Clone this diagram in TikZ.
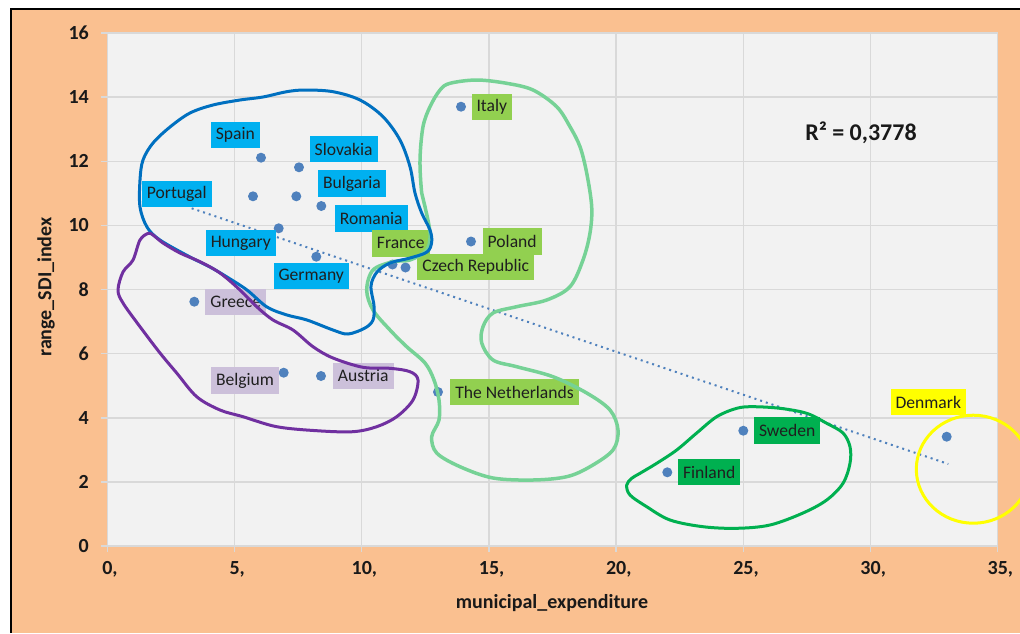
\documentclass[tikz,border=0pt]{standalone}
\usepackage{fontspec}
\setmainfont{Carlito}
\definecolor{bgorange}{RGB}{250,192,144}
\definecolor{plotgray}{RGB}{242,242,242}
\definecolor{gridgray}{RGB}{217,217,217}
\definecolor{dotblue}{RGB}{79,129,189}
\definecolor{labblue}{RGB}{0,176,240}
\definecolor{labgreen}{RGB}{146,208,80}
\definecolor{labdkgreen}{RGB}{0,176,80}
\definecolor{lablav}{RGB}{204,192,218}
\definecolor{labyellow}{RGB}{255,255,0}
\definecolor{curveblue}{RGB}{0,112,192}
\definecolor{curvepurple}{RGB}{112,48,160}
\definecolor{curvelgreen}{RGB}{118,210,150}
\begin{document}
\begin{tikzpicture}[x=1pt,y=-1pt,
  grid/.style={draw=gridgray,line width=1.5pt},
  ticklab/.style={font=\fontsize{20}{20}\selectfont\bfseries,text=black!90,inner sep=0pt},
  axtitle/.style={font=\fontsize{20}{20}\selectfont\bfseries,text=black!90,inner sep=0pt},
  lab/.style={inner xsep=5pt,inner ysep=0pt,minimum height=26.5pt,font=\fontsize{17.6}{17.6}\selectfont,text=black!88},
  dot/.style={circle,fill=dotblue,minimum size=10pt,inner sep=0pt},
  trend/.style={draw=dotblue,line width=2pt,dash pattern=on 2pt off 4pt},
  blob/.style={line width=3pt,line join=round}]
\useasboundingbox (0,0) rectangle (1020,633);
\fill[white] (0,0) rectangle (1020,633);
\fill[bgorange] (11,10) rectangle (1020,633);
\draw[line width=2pt] (11,633) -- (11,9) -- (1020,9);
% plot area
\fill[plotgray] (107.3,33) rectangle (997.7,546);
\foreach \i in {0,...,7}{
  \draw[grid] ({107.3+127.2*\i},33) -- ({107.3+127.2*\i},552);
  \pgfmathtruncatemacro{\v}{5*\i}
  \node[ticklab,anchor=north] (xl\i) at ({110+127.2*\i},561) {\v,};
}
\foreach \j in {0,...,8}{
  \draw[grid] (101,{546-64.125*\j}) -- (997.7,{546-64.125*\j});
  \pgfmathtruncatemacro{\v}{2*\j}
  \node[ticklab,anchor=east] (yl\j) at (89,{546-64.125*\j}) {\v};
}
\node[axtitle] (xtitle) at (552,603) {municipal\_expenditure};
\node[axtitle,rotate=90] (ytitle) at (46,287) {range\_SDI\_index};
\node[font=\fontsize{24}{24}\selectfont\bfseries,text=black!90] (r2) at (861,133) {R² = 0,3778};
% trend line
\coordinate (t1) at (191.7,208.3);
\coordinate (t2) at (948.3,464);
\draw[trend] (t1) -- (t2);
% data points
\foreach \n/\x/\y in {italy/461/106.7, spain/261/157.7, slovakia/299/167.3,
  portugal/253/196.3, bulgaria/296.3/196.3, romania/321.3/206, hungary/278.7/228.3,
  germany/316.3/256.7, greece/194.3/301.7, france/392.5/264.5, czech/405.5/267.5,
  poland/471/241.5, netherlands/438/392, belgium/283.7/372.7, austria/321/376,
  sweden/743.3/430.7, finland/667.3/472.3, denmark/946.7/436.7}
  \node[dot] (d-\n) at (\x,\y) {};
% labels
\node[lab,fill=labblue] (l-spain) at (235.3,135) {Spain};
\node[lab,fill=labblue] (l-slovakia) at (343.7,149) {Slovakia};
\node[lab,fill=labblue] (l-bulgaria) at (352,183.7) {Bulgaria};
\node[lab,fill=labblue] (l-portugal) at (176.8,193.8) {Portugal};
\node[lab,fill=labblue] (l-romania) at (371.2,218.3) {Romania};
\node[lab,fill=labblue] (l-hungary) at (240.8,243) {Hungary};
\node[lab,fill=labblue] (l-germany) at (311.2,276.2) {Germany};
\node[lab,fill=labgreen] (l-france) at (400.8,243.3) {France};
\node[lab,fill=labgreen] (l-czech) at (475.8,267) {Czech Republic};
\node[lab,fill=labgreen] (l-poland) at (512.2,241.3) {Poland};
\node[lab,fill=labgreen] (l-italy) at (491.8,107) {Italy};
\node[lab,fill=labgreen] (l-netherlands) at (514.5,392.2) {The Netherlands};
\node[lab,fill=lablav] (l-greece) at (235.8,302.2) {Greece};
\node[lab,fill=lablav] (l-belgium) at (245,380.7) {Belgium};
\node[lab,fill=lablav] (l-austria) at (363.2,376) {Austria};
\node[lab,fill=labdkgreen] (l-sweden) at (787.2,430.5) {Sweden};
\node[lab,fill=labdkgreen] (l-finland) at (709.2,472) {Finland};
\node[lab,fill=labyellow] (l-denmark) at (928.3,402.2) {Denmark};
% hand-drawn group outlines
\draw[blob,draw=curvelgreen,line width=3.5pt] plot[smooth cycle,tension=0.55] coordinates {
 (450,83.3) (476.7,80) (506.7,83.3) (533,90) (556.7,106.7) (570,126.7) (580,146.7)
 (586.7,173) (591.7,206.7) (590,233) (583,260) (570,286.7) (546.7,300) (516.7,306.7)
 (493,313) (483,326.7) (481.7,343) (493,360) (516.7,366.7) (553,376.7) (586.7,393)
 (610,410) (618,430) (613,450) (590,466.7) (566.7,476.7) (533,480) (493,478)
 (460,466.7) (436.7,453) (431.7,436.7) (439,420) (439,400) (434,380) (425,363)
 (406.7,346.7) (390,330) (373,310) (366.7,290) (373,270) (393,261.7) (410,260)
 (426.7,250) (430,233) (425,206.7) (421.7,193) (420,160) (423,126.7) (430,106.7) (440,90)};
\draw[blob,draw=curveblue] plot[smooth cycle,tension=0.55] coordinates {
 (286.7,91.7) (305,90) (333,91.7) (360,100) (383,116.7) (400,140) (410,166.7)
 (415,193) (421.7,213) (430,230) (431.7,242) (427,252) (410,258) (390,263)
 (377,272) (371,286) (374,306) (373,320) (365,328) (348,334) (333,330) (307,320)
 (287,315) (267,307) (247,290) (227,277) (210,267) (190,257) (160,240) (147,227)
 (140,207) (140,180) (143,160) (153,143) (170,127) (190,113) (213,105) (240,100) (263,97)};
\draw[blob,draw=curvepurple] plot[smooth cycle,tension=0.55] coordinates {
 (148.3,233.3) (140,240) (133,260) (123,272) (118,290) (123,303) (140,326.7)
 (160,353) (176.7,373) (196.7,396.7) (220,410) (243,416.7) (276.7,426.7)
 (316.7,430.7) (353,431.7) (376.7,426.7) (396.7,416.7) (413,400) (418,380)
 (410,371.7) (390,368.3) (363,367.3) (333,358) (313,346.7) (293,330) (273,320)
 (256.7,306.7) (240,290) (220,273) (200,261.7) (180,253) (163,243) (153,235)};
\draw[blob,draw=labdkgreen] plot[smooth cycle,tension=0.55] coordinates {
 (631.7,478.3) (626.7,485) (630,495) (646.7,506.7) (670,520) (703,526.7)
 (736.7,528.3) (770,525) (803,513) (826.7,500) (843,483.3) (850,463.3)
 (850,446.7) (843,433) (826.7,423.3) (806.7,413.3) (780,408.3) (753,406.7)
 (736.7,408.3) (716.7,416.7) (696.7,433) (676.7,450) (656.7,463.3) (640,473.3)};
\draw[blob,draw=labyellow] (973.3,469.2) ellipse [x radius=57, y radius=54];
\end{tikzpicture}
\end{document}
